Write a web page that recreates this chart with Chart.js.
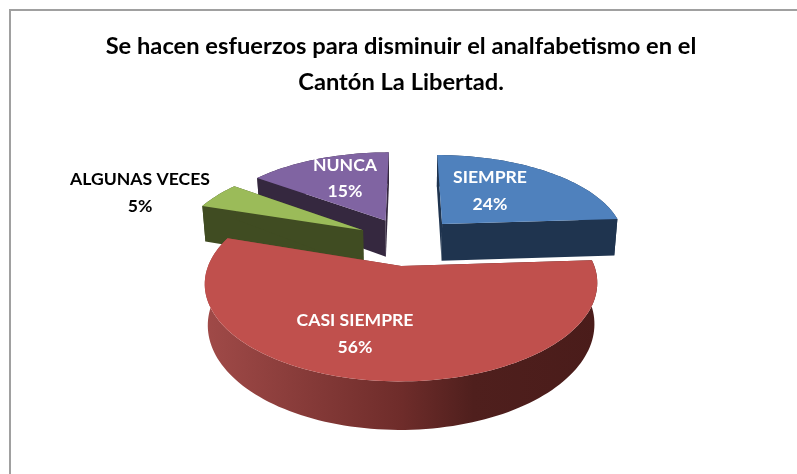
<!DOCTYPE html>
<html>
<head>
<meta charset="utf-8">
<title>Analfabetismo</title>
<script src="https://cdn.jsdelivr.net/npm/chart.js@4"></script>
<style>
    html, body { margin: 0; padding: 0; background: #fff; overflow: hidden; }
    #wrap { position: absolute; left: 9px; top: 9px; width: 788px; height: 465px; border-left: 2px solid #a0a0a0; border-top: 2px solid #a0a0a0; box-sizing: border-box; }
    canvas { position: absolute; left: 0; top: 0; }
</style>
</head>
<body>
<div id="wrap"></div>
<canvas id="chart" width="797" height="474"></canvas>
<script>
const categories = ['SIEMPRE', 'CASI SIEMPRE', 'ALGUNAS VECES', 'NUNCA'];
const percents = [24, 56, 5, 15];
const titleLines = ['Se hacen esfuerzos para disminuir el analfabetismo en el', 'Cantón La Libertad.'];

const topColors = ['#4f81bd', '#c0504d', '#9bbb59', '#8064a2'];
const wallColors = ['#1f344f', null, '#404c22', '#35283f'];

// screen mapping of the tilted pie plane
const view = { x: 408, y: 241, kx: 184, ky: 86, persp: 0.17, depth: 38, explode: 0.28 };
const drawOrder = [0, 3, 2, 1];

function project(u, v, z) {
    const p = 1 / (1 - view.persp * v);
    return {
        x: view.x + view.kx * u * p * (1 - 0.015 * z),
        y: view.y + view.ky * v * p + z * view.depth * p
    };
}

function sliceOutline(arc) {
    // chart.js angles start at 3 o'clock
    const start = arc.startAngle + Math.PI / 2;
    const end = arc.endAngle + Math.PI / 2;
    const mid = (start + end) / 2;
    const ou = view.explode * Math.sin(mid);
    const ov = -view.explode * Math.cos(mid);
    const pts = [[ou, ov]];
    const steps = Math.ceil((end - start) / 0.03);
    for (let i = 0; i <= steps; i++) {
        const a = start + (end - start) * i / steps;
        pts.push([ou + Math.sin(a), ov - Math.cos(a)]);
    }
    return pts;
}

function redWall(ctx) {
    const g = ctx.createLinearGradient(205, 0, 600, 0);
    g.addColorStop(0, '#a04a48');
    g.addColorStop(0.5, '#6e2c2a');
    g.addColorStop(0.68, '#4f1f1d');
    g.addColorStop(1, '#4a1c1a');
    return g;
}

function fillPoly(ctx, points) {
    ctx.beginPath();
    points.forEach((s, k) => {
        if (k === 0) ctx.moveTo(s.x, s.y);
        else ctx.lineTo(s.x, s.y);
    });
    ctx.closePath();
    ctx.fill();
}

const pie3d = {
    id: 'pie3d',
    beforeDatasetDraw(chart, args) {
        const ctx = chart.ctx;
        const arcs = chart.getDatasetMeta(args.index).data;
        drawOrder.forEach(i => {
            const pts = sliceOutline(arcs[i]);
            const rim = pts.slice(1);
            ctx.fillStyle = wallColors[i] || redWall(ctx);
            // outer wall in one piece, a quad per step leaves seams in the gradient
            fillPoly(ctx, rim.map(p => project(p[0], p[1], 0))
                .concat(rim.slice().reverse().map(p => project(p[0], p[1], 1))));
            // the two cut faces, the top face hides the one looking away
            [rim[0], rim[rim.length - 1]].forEach(e => {
                fillPoly(ctx, [
                    project(pts[0][0], pts[0][1], 0), project(e[0], e[1], 0),
                    project(e[0], e[1], 1), project(pts[0][0], pts[0][1], 1)
                ]);
            });
            ctx.fillStyle = topColors[i];
            fillPoly(ctx, pts.map(p => project(p[0], p[1], 0)));
        });
        return false;
    }
};

// label anchors: [x, y of name, y of percent, colour]
const labelSpots = [
    [490, 177, 204, '#ffffff'],
    [355, 320, 347, '#ffffff'],
    [140, 179, 206, '#000000'],
    [345, 165, 191, '#ffffff']
];

const pieLabels = {
    id: 'pieLabels',
    afterDatasetsDraw(chart) {
        const ctx = chart.ctx;
        ctx.textAlign = 'center';
        ctx.textBaseline = 'middle';
        ctx.font = 'bold 17.6px Lato';
        categories.forEach((name, i) => {
            const s = labelSpots[i];
            ctx.fillStyle = s[3];
            ctx.fillText(name, s[0], s[1]);
            ctx.fillText(percents[i] + '%', s[0], s[2]);
        });
    }
};

new Chart(document.getElementById('chart'), {
    type: 'pie',
    data: {
        labels: categories,
        datasets: [{ data: percents, backgroundColor: topColors, borderWidth: 0 }]
    },
    options: {
        responsive: false,
        animation: false,
        layout: { padding: { top: 18, left: 5 } },
        plugins: {
            legend: { display: false },
            tooltip: { enabled: false },
            title: {
                display: true,
                text: titleLines,
                color: '#000000',
                font: { family: 'Lato', size: 23.7, weight: 'bold', lineHeight: 1.52 }
            }
        }
    },
    plugins: [pie3d, pieLabels]
});
</script>
</body>
</html>
